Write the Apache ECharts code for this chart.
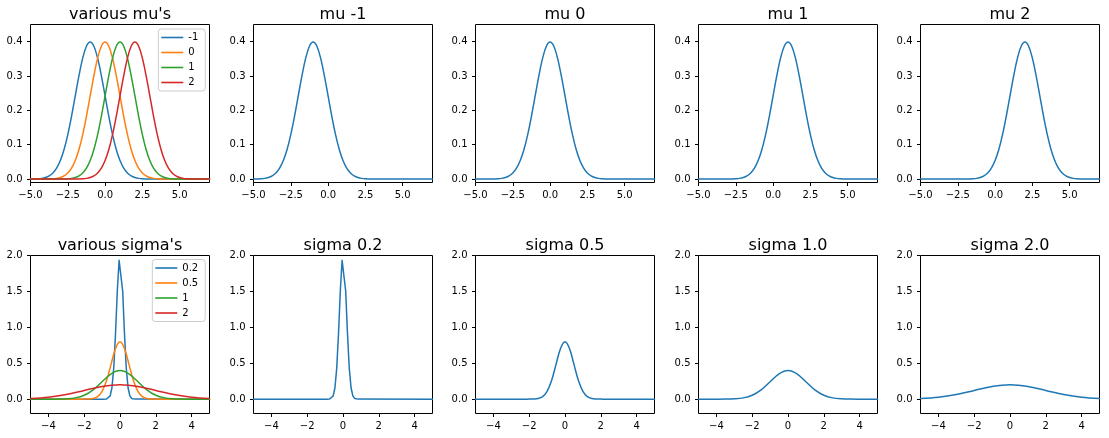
<!DOCTYPE html>
<html><head><meta charset="utf-8">
<script src="https://cdn.jsdelivr.net/npm/echarts@6/dist/echarts.min.js"></script>
<style>html,body{margin:0;padding:0;background:#fff}#c{width:1109px;height:438px}</style>
</head><body><div id="c"></div><script>
// ---------- data ----------
const muX = [-5,-4.75,-4.5,-4.25,-4,-3.75,-3.5,-3.25,-3,-2.75,-2.5,-2.25,-2,-1.75,-1.5,-1.25,-1,-0.75,-0.5,-0.25,0,0.25,0.5,0.75,1,1.25,1.5,1.75,2,2.25,2.5,2.75,3,3.25,3.5,3.75,4,4.25,4.5,4.75,5,5.25,5.5,5.75,6,6.25,6.5,6.75,7];
const muM1 = [0.0001,0.0004,0.0009,0.0020,0.0044,0.0091,0.0175,0.0317,0.0540,0.0863,0.1295,0.1826,0.2420,0.3011,0.3521,0.3867,0.3989,0.3867,0.3521,0.3011,0.2420,0.1826,0.1295,0.0863,0.0540,0.0317,0.0175,0.0091,0.0044,0.0020,0.0009,0.0004,0.0001,0,0,0,0,0,0,0,0,0,0,0,0,0,0,0,0];
const mu0 = [0,0,0,0,0.0001,0.0004,0.0009,0.0020,0.0044,0.0091,0.0175,0.0317,0.0540,0.0863,0.1295,0.1826,0.2420,0.3011,0.3521,0.3867,0.3989,0.3867,0.3521,0.3011,0.2420,0.1826,0.1295,0.0863,0.0540,0.0317,0.0175,0.0091,0.0044,0.0020,0.0009,0.0004,0.0001,0,0,0,0,0,0,0,0,0,0,0,0];
const mu1 = [0,0,0,0,0,0,0,0,0.0001,0.0004,0.0009,0.0020,0.0044,0.0091,0.0175,0.0317,0.0540,0.0863,0.1295,0.1826,0.2420,0.3011,0.3521,0.3867,0.3989,0.3867,0.3521,0.3011,0.2420,0.1826,0.1295,0.0863,0.0540,0.0317,0.0175,0.0091,0.0044,0.0020,0.0009,0.0004,0.0001,0,0,0,0,0,0,0,0];
const mu2 = [0,0,0,0,0,0,0,0,0,0,0,0,0.0001,0.0004,0.0009,0.0020,0.0044,0.0091,0.0175,0.0317,0.0540,0.0863,0.1295,0.1826,0.2420,0.3011,0.3521,0.3867,0.3989,0.3867,0.3521,0.3011,0.2420,0.1826,0.1295,0.0863,0.0540,0.0317,0.0175,0.0091,0.0044,0.0020,0.0009,0.0004,0.0001,0,0,0,0];
const muLabels = ['-1','0','1','2'];

const sig02X = [-5,-0.95,-0.85,-0.75,-0.65,-0.55,-0.45,-0.35,-0.25,-0.15,-0.05,0.05,0.15,0.25,0.35,0.45,0.55,0.65,0.75,0.85,0.95,5];
const sig02Y = [0,0,0.0003,0.0018,0.0101,0.0455,0.1587,0.4314,0.9132,1.5057,1.9333,1.9333,1.5057,0.9132,0.4314,0.1587,0.0455,0.0101,0.0018,0.0003,0,0];
const sig05X = [-5,-2.5,-2.25,-2,-1.75,-1.5,-1.25,-1,-0.75,-0.5,-0.25,0,0.25,0.5,0.75,1,1.25,1.5,1.75,2,2.25,2.5,5];
const sig05Y = [0,0,0,0.0003,0.0017,0.0089,0.0351,0.1080,0.2590,0.4839,0.7041,0.7979,0.7041,0.4839,0.2590,0.1080,0.0351,0.0089,0.0017,0.0003,0,0,0];
const sig1X = [-5,-4.5,-4,-3.5,-3,-2.5,-2,-1.5,-1,-0.5,0,0.5,1,1.5,2,2.5,3,3.5,4,4.5,5];
const sig1Y = [0,0,0.0001,0.0009,0.0044,0.0175,0.0540,0.1295,0.2420,0.3521,0.3989,0.3521,0.2420,0.1295,0.0540,0.0175,0.0044,0.0009,0.0001,0,0];
const sig2X = [-5,-4,-3,-2,-1,0,1,2,3,4,5];
const sig2Y = [0.0088,0.0270,0.0648,0.1210,0.1760,0.1995,0.1760,0.1210,0.0648,0.0270,0.0088];
const sigLabels = ['0.2','0.5','1','2'];

const topTitles = ["various mu's","mu -1","mu 0","mu 1","mu 2"];
const bottomTitles = ["various sigma's","sigma 0.2","sigma 0.5","sigma 1.0","sigma 2.0"];

const muXTicks = [-5,-2.5,0,2.5,5];
const muYTicks = [0,0.1,0.2,0.3,0.4];
const sigXTicks = [-4,-2,0,2,4];
const sigYTicks = [0,0.5,1,1.5,2];

// ---------- build ----------
const COLORS = ['#1f77b4','#ff7f0e','#2ca02c','#d62728'];
const FONT = "'DejaVu Sans', sans-serif";
const lefts = [30.5,253.5,475.5,698.5,920.5];
const tops = [24.5,255.5];
const W = 179, H = 158;
const minus = s => s.replace('-', '\u2212');
const pairs = (xs, ys) => xs.map((x, i) => [x, ys[i]]);

const muCurves = [pairs(muX,muM1), pairs(muX,mu0), pairs(muX,mu1), pairs(muX,mu2)];
const sigCurves = [pairs(sig02X,sig02Y), pairs(sig05X,sig05Y), pairs(sig1X,sig1Y), pairs(sig2X,sig2Y)];
const sigSmooth = [false, true, true, true];

const rows = [
  {titles: topTitles, curves: muCurves, labels: muLabels, smooth: [true,true,true,true],
   xmin: -5, xmax: 7, ymin: -0.01, ymax: 0.45, xt: muXTicks, yt: muYTicks,
   xf: v => minus(v.toFixed(1)), yf: v => v.toFixed(1)},
  {titles: bottomTitles, curves: sigCurves, labels: sigLabels, smooth: sigSmooth,
   xmin: -5, xmax: 5, ymin: -0.2, ymax: 2.0, xt: sigXTicks, yt: sigYTicks,
   xf: v => minus(String(Math.round(v))), yf: v => v.toFixed(1)}
];

const grid = [], xAxis = [], yAxis = [], series = [], title = [];
rows.forEach((row, r) => {
  for (let c = 0; c < 5; c++) {
    const idx = r * 5 + c;
    grid.push({left: lefts[c], top: tops[r], width: W, height: H, show: true,
      borderColor: '#000', borderWidth: 1, backgroundColor: 'transparent'});
    const tick = {show: true, inside: false, length: 3.5, lineStyle: {color: '#000', width: 1}};
    const lab = {fontSize: 10, color: '#000', fontFamily: FONT};
    xAxis.push({type: 'value', gridIndex: idx, min: row.xmin, max: row.xmax, position: 'bottom',
      axisLine: {show: false, onZero: false}, splitLine: {show: false},
      axisTick: Object.assign({customValues: row.xt}, tick),
      axisLabel: Object.assign({customValues: row.xt, formatter: row.xf, margin: 8}, lab)});
    yAxis.push({type: 'value', gridIndex: idx, min: row.ymin, max: row.ymax, position: 'left',
      axisLine: {show: false, onZero: false}, splitLine: {show: false},
      axisTick: Object.assign({customValues: row.yt}, tick),
      axisLabel: Object.assign({customValues: row.yt, formatter: row.yf, margin: 8}, lab)});
    title.push({text: row.titles[c], left: lefts[c] + W / 2, top: tops[r] - 17.5,
      textAlign: 'center', textVerticalAlign: 'top', padding: 0,
      textStyle: {fontSize: 16, fontWeight: 'normal', color: '#000', fontFamily: FONT}});
    const list = c === 0 ? [0,1,2,3] : [c - 1];
    list.forEach(k => {
      const col = c === 0 ? COLORS[k] : COLORS[0];
      series.push({type: 'line', name: c === 0 ? row.labels[k] : row.titles[c],
        xAxisIndex: idx, yAxisIndex: idx, data: row.curves[k],
        showSymbol: false, symbol: 'none', smooth: row.smooth[k] ? 0.35 : false,
        lineStyle: {width: 1.5, color: col, join: 'round', cap: 'round'}, itemStyle: {color: col},
        emphasis: {disabled: true}, silent: true, clip: true});
    });
  }
});

const legendBase = {orient: 'vertical', icon: 'rect', itemWidth: 22, itemHeight: 1.6, itemGap: 4,
  padding: [3, 7, 3, 3], backgroundColor: 'rgba(255,255,255,0.8)', borderColor: '#cccccc',
  borderWidth: 1, borderRadius: 3, selectedMode: false,
  textStyle: {fontSize: 10, lineHeight: 11, color: '#000', fontFamily: FONT}};

const option = {
  animation: false,
  backgroundColor: '#fff',
  title, grid, xAxis, yAxis, series,
  legend: [
    Object.assign({data: muLabels, left: 158.3, top: 29}, legendBase),
    Object.assign({data: sigLabels, left: 152.3, top: 259.5}, legendBase)
  ]
};
const chart = echarts.init(document.getElementById('c'), null, {renderer: 'canvas'});
chart.setOption(option);
</script></body></html>
